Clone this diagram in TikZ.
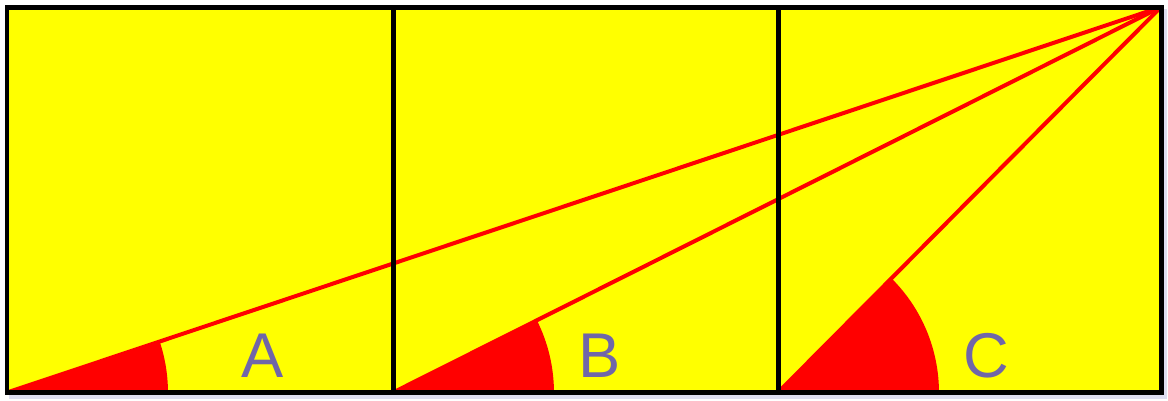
\documentclass[tikz,border=0pt]{standalone}
\usepackage{fontspec}
\setmainfont{Liberation Sans}
\usetikzlibrary{calc}
\definecolor{letterpurple}{RGB}{112,102,168}
\definecolor{shadowblue}{RGB}{222,222,240}
\definecolor{fillyellow}{RGB}{255,255,0}
\definecolor{rayred}{RGB}{255,0,0}
\begin{document}
\begin{tikzpicture}[
        x=0.02cm, y=0.02cm,
        frame/.style={draw=black, line width=0.1cm, line join=miter},
        ray/.style={draw=rayred, line width=0.08cm},
        sector/.style={fill=rayred},
        letter/.style={font=\fontsize{36}{40}\selectfont, text=letterpurple},
    ]
    \useasboundingbox (0,0) rectangle (1168,400);

    %% Shadow and background
    \fill[shadowblue] (9,1) rectangle (1167,391);
    \fill[fillyellow] (7,7.5) rectangle (1161,393);

    %% Corners
    \coordinate (apex) at (1161,393);
    \coordinate (cA) at (7,7.5);
    \coordinate (cB) at (393,7.5);
    \coordinate (cC) at (778,7.5);

    %% Angle sectors and rays
    \foreach \c in {cA, cB, cC} {
        \fill[sector] let \p1=($(apex)-(\c)$), \n1={atan2(\y1,\x1)} in
            (\c) -- ++(3.22cm,0) arc[start angle=0, end angle=\n1, radius=3.22cm] -- cycle;
        \draw[ray] (\c) -- (apex);
    }

    %% Labels
    \node[letter] (labA) at (263,44) {A};
    \node[letter] (labB) at (600,44) {B};
    \node[letter] (labC) at (986,44) {C};

    %% Squares
    \draw[frame] (cA) rectangle (apex);
    \draw[frame] (cB) -- (cB |- apex);
    \draw[frame] (cC) -- (cC |- apex);

\end{tikzpicture}
\end{document}
